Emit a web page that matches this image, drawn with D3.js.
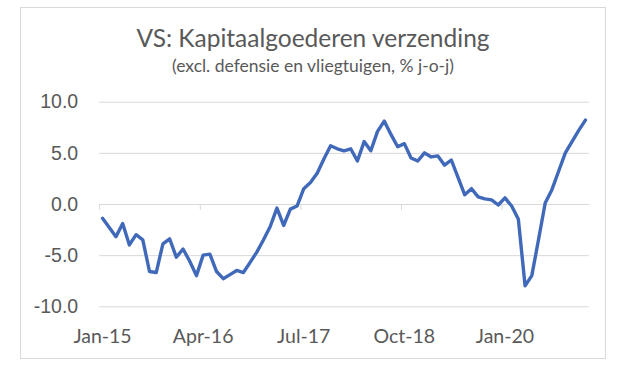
<!DOCTYPE html>
<html>
<head>
<meta charset="utf-8">
<script src="https://cdn.jsdelivr.net/npm/d3@7"></script>
<style>
  body { margin: 0; background: #fff; }
  svg { display: block; font-family: Lato, "Open Sans", sans-serif; }
</style>
</head>
<body>
<div id="chart"></div>
<script>
// monthly values, Jan-15 .. Jan-21 (% j-o-j)
var values = [-1.4, -2.3, -3.2, -1.9, -4.0, -3.0, -3.5, -6.6, -6.7, -3.9,
    -3.4, -5.2, -4.4, -5.6, -7.0, -5.0, -4.9, -6.6, -7.3, -6.9,
    -6.5, -6.7, -5.7, -4.7, -3.5, -2.2, -0.4, -2.1, -0.5, -0.2,
    1.5, 2.1, 3.0, 4.4, 5.7, 5.4, 5.2, 5.4, 4.2, 6.1,
    5.2, 7.1, 8.1, 6.8, 5.6, 5.9, 4.5, 4.2, 5.0, 4.6,
    4.7, 3.8, 4.3, 2.6, 0.9, 1.5, 0.7, 0.5, 0.4, -0.1,
    0.6, -0.2, -1.5, -8.0, -7.0, -3.5, 0.1, 1.4, 3.2, 5.0,
    6.1, 7.2, 8.2];
var tickIndex = [0, 15, 30, 45, 60];
var tickLabels = ["Jan-15", "Apr-16", "Jul-17", "Oct-18", "Jan-20"];
var yTicks = [-10, -5, 0, 5, 10];

function paint() {
    var W = 625, H = 375;
    var svg = d3.select("#chart").append("svg")
        .attr("width", W)
        .attr("height", H);

    // chart frame
    svg.append("rect")
        .attr("x", 20.5).attr("y", 7.5)
        .attr("width", 585).attr("height", 351)
        .attr("fill", "#fff")
        .attr("stroke", "#d9d9d9");

    var plot = { left: 99.2, right: 588.8, top: 101.7, bottom: 306.3 };

    var x = d3.scaleLinear().domain([0, values.length]).range([plot.left, plot.right]);
    var y = d3.scaleLinear().domain([-10, 10]).range([plot.bottom, plot.top]);

    // gridlines + y labels
    var yAxis = svg.append("g")
        .attr("transform", "translate(" + plot.left + ",0)")
        .call(d3.axisLeft(y)
            .tickValues(yTicks)
            .tickSize(-(plot.right - plot.left))
            .tickPadding(21)
            .tickFormat(function (d) { return d.toFixed(1); }));
    yAxis.select(".domain").remove();
    yAxis.selectAll("line").attr("stroke", "#d9d9d9");
    yAxis.selectAll("text")
        .attr("fill", "#595959")
        .style("font-size", "19.5px");

    // category axis line at zero with tick marks
    var xAxis = svg.append("g")
        .attr("transform", "translate(0," + y(0) + ")")
        .call(d3.axisBottom(x)
            .tickValues(tickIndex)
            .tickSize(6)
            .tickSizeOuter(0)
            .tickFormat(""));
    xAxis.selectAll("line, path").attr("stroke", "#d9d9d9");

    // x labels at the bottom, centred on their month
    svg.append("g")
        .selectAll("text")
        .data(tickIndex)
        .enter()
        .append("text")
        .attr("x", function (d) { return x(d + 0.5); })
        .attr("y", 343)
        .attr("text-anchor", "middle")
        .attr("fill", "#595959")
        .style("font-size", "19.5px")
        .text(function (d, i) { return tickLabels[i]; });

    // line
    var line = d3.line()
        .x(function (d, i) { return x(i + 0.5); })
        .y(function (d) { return y(d); });

    svg.append("path")
        .datum(values)
        .attr("d", line)
        .attr("fill", "none")
        .attr("stroke", "#4169b9")
        .attr("stroke-width", 3.4)
        .attr("stroke-linejoin", "round")
        .attr("stroke-linecap", "round");

    // titles
    svg.append("text")
        .attr("x", 313).attr("y", 46.5)
        .attr("text-anchor", "middle")
        .attr("fill", "#595959")
        .style("font-size", "24.5px")
        .text("VS: Kapitaalgoederen verzending");

    svg.append("text")
        .attr("x", 313).attr("y", 71.5)
        .attr("text-anchor", "middle")
        .attr("fill", "#595959")
        .style("font-size", "17.5px")
        .text("(excl. defensie en vliegtuigen, % j-o-j)");
}

paint();
</script>
</body>
</html>
